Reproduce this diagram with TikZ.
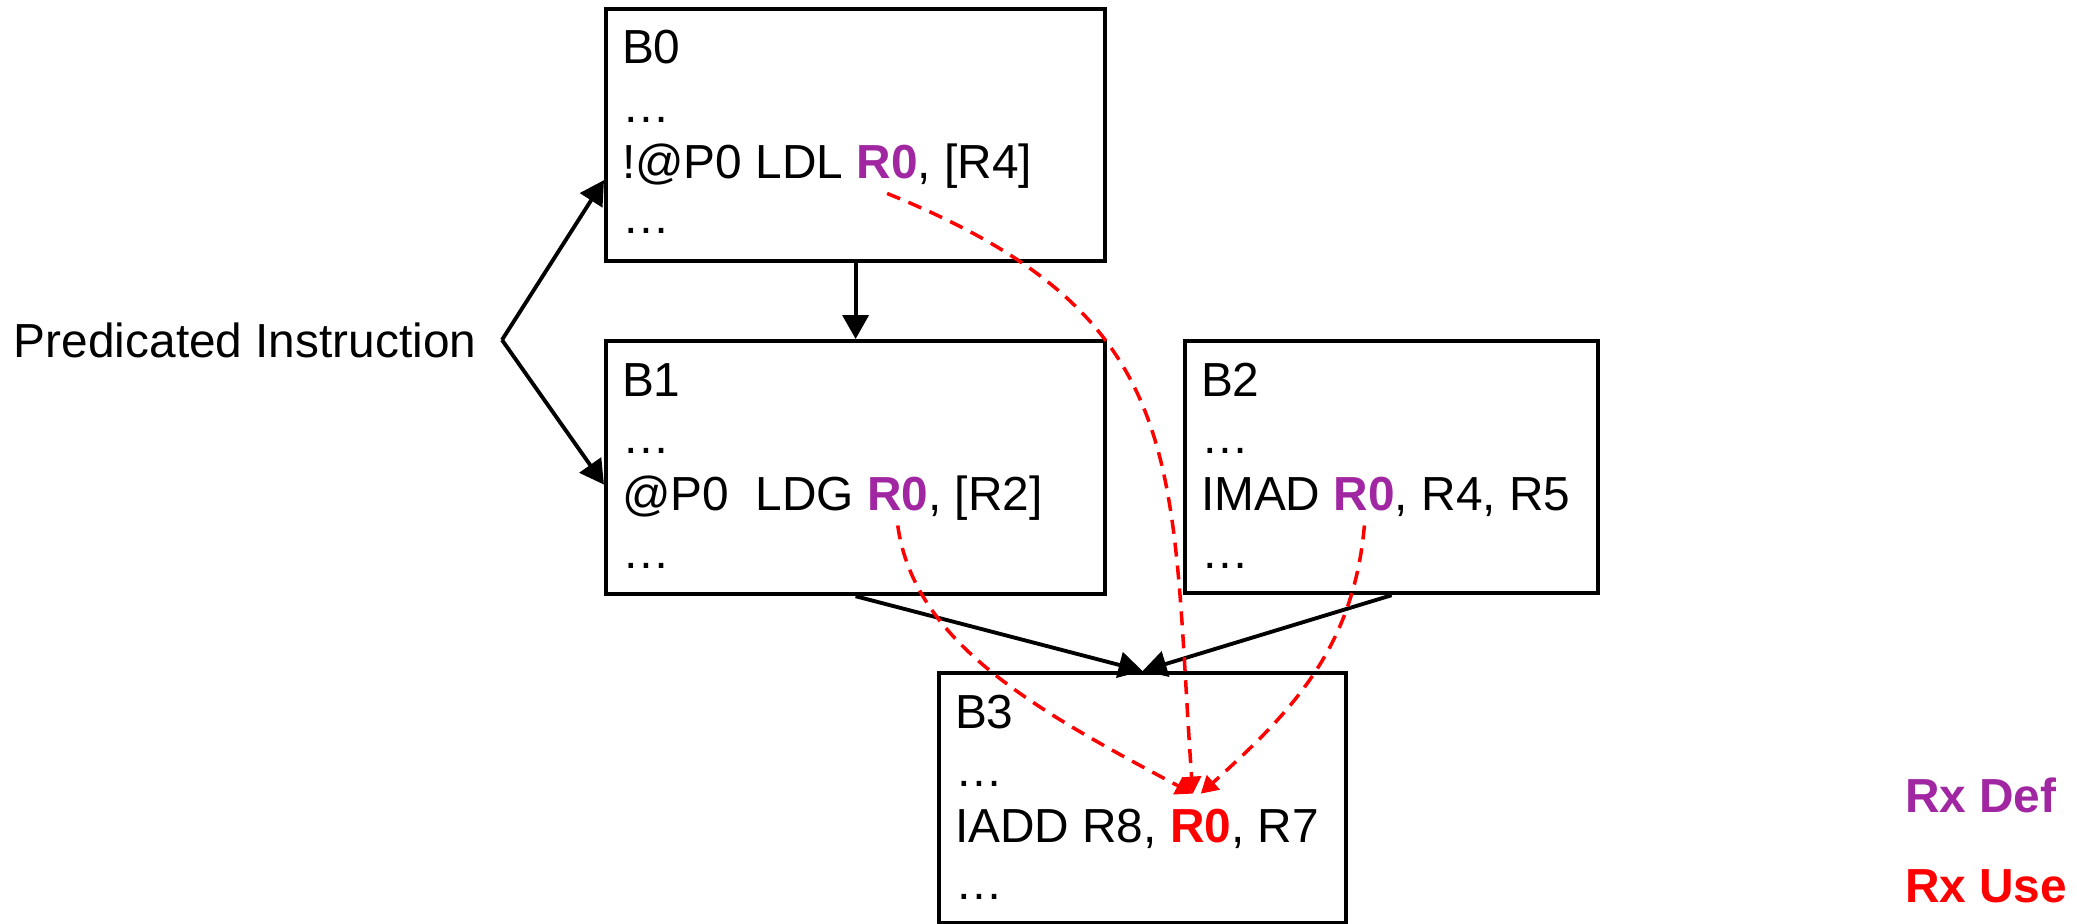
\documentclass[tikz,border=0pt]{standalone}
\usepackage{fontspec}
\setmainfont{Liberation Sans}
\usetikzlibrary{arrows.meta, positioning}
\definecolor{rxdef}{RGB}{160,38,162}
\definecolor{rxuse}{RGB}{255,0,0}

\begin{document}
\begin{tikzpicture}[
    font=\fontsize{13.6}{16}\selectfont,
    block/.style={draw, line width=1.2pt, anchor=north west, inner sep=0},
    txt/.style={anchor=base west, inner sep=0, outer sep=0},
    reg/.style={txt, font=\fontsize{13.6}{16}\selectfont\bfseries, outer ysep=0.15cm},
    flow/.style={-{Triangle[length=0.24cm, width=0.26cm]}, line width=1.1pt},
    dep/.style={-{Triangle[length=0.17cm, width=0.19cm]}, draw=rxuse, line width=1pt, dash pattern=on 0.14cm off 0.09cm},
  ]
  \useasboundingbox (0,0) rectangle (20.77,-9.23);

  % basic blocks
  \node[block, minimum width=4.99cm, minimum height=2.52cm] (b0) at (6.04,-0.07) {};
  \node[block, minimum width=4.99cm, minimum height=2.53cm] (b1) at (6.04,-3.39) {};
  \node[block, minimum width=4.13cm, minimum height=2.52cm] (b2) at (11.83,-3.39) {};
  \node[block, minimum width=4.07cm, minimum height=2.50cm] (b3) at (9.37,-6.71) {};

  % B0
  \node[txt] (b0name) at (6.22,-0.63) {B0};
  \node[txt] (b0top) at (6.22,-1.22) {…};
  \node[txt] (b0op) at (6.22,-1.78) {!@P0 LDL};
  \node[reg, text=rxdef, right=3.8pt of b0op.base east, anchor=base west] (b0r0) {R0};
  \node[txt] (b0arg) at (b0r0.base east) {, [R4]};
  \node[txt] (b0bot) at (6.22,-2.33) {…};

  % B1
  \node[txt] (b1name) at (6.22,-3.96) {B1};
  \node[txt] (b1top) at (6.22,-4.53) {…};
  \node[txt] (b1op) at (6.22,-5.10) {@P0\ \ LDG};
  \node[reg, text=rxdef, right=3.8pt of b1op.base east, anchor=base west] (b1r0) {R0};
  \node[txt] (b1arg) at (b1r0.base east) {, [R2]};
  \node[txt] (b1bot) at (6.22,-5.68) {…};

  % B2
  \node[txt] (b2name) at (12.01,-3.96) {B2};
  \node[txt] (b2top) at (12.01,-4.53) {…};
  \node[txt] (b2op) at (12.01,-5.10) {IMAD};
  \node[reg, text=rxdef, right=3.8pt of b2op.base east, anchor=base west] (b2r0) {R0};
  \node[txt] (b2arg) at (b2r0.base east) {, R4, R5};
  \node[txt] (b2bot) at (12.01,-5.68) {…};

  % B3
  \node[txt] (b3name) at (9.55,-7.28) {B3};
  \node[txt] (b3top) at (9.55,-7.86) {…};
  \node[txt] (b3op) at (9.55,-8.42) {IADD R8,};
  \node[reg, text=rxuse, right=3.8pt of b3op.base east, anchor=base west] (b3r0) {R0};
  \node[txt] (b3arg) at (b3r0.base east) {, R7};
  \node[txt] (b3bot) at (9.55,-8.99) {…};

  % control flow
  \draw[flow] (b0) -- (b1);
  \draw[flow] (b1.south) -- (b3.north);
  \draw[flow] (b2.south) -- (b3.north);

  \node[anchor=base east, inner sep=0] (pred) at (4.77,-3.57) {Predicated Instruction};
  \coordinate (fork) at ([xshift=0.25cm]pred.east);
  \draw[flow] (fork) -- ([yshift=-0.45cm]b0.west);
  \draw[flow] (fork) -- ([yshift=-0.17cm]b1.west);

  % def-use of R0
  \draw[dep] (b0r0.south) to[out=-22, in=94, looseness=1.26] ([xshift=-0.08cm]b3r0.north);
  \draw[dep] (b1r0.south) to[out=-82, in=152, out looseness=0.76, in looseness=1.15] ([xshift=-0.08cm]b3r0.north);
  \draw[dep] (b2r0.south) to[out=-95, in=42] (b3r0.north);

  % legend
  \node[reg, text=rxdef] (legdef) at (19.05,-8.12) {Rx Def};
  \node[reg, text=rxuse] (leguse) at (19.05,-9.02) {Rx Use};
\end{tikzpicture}
\end{document}
